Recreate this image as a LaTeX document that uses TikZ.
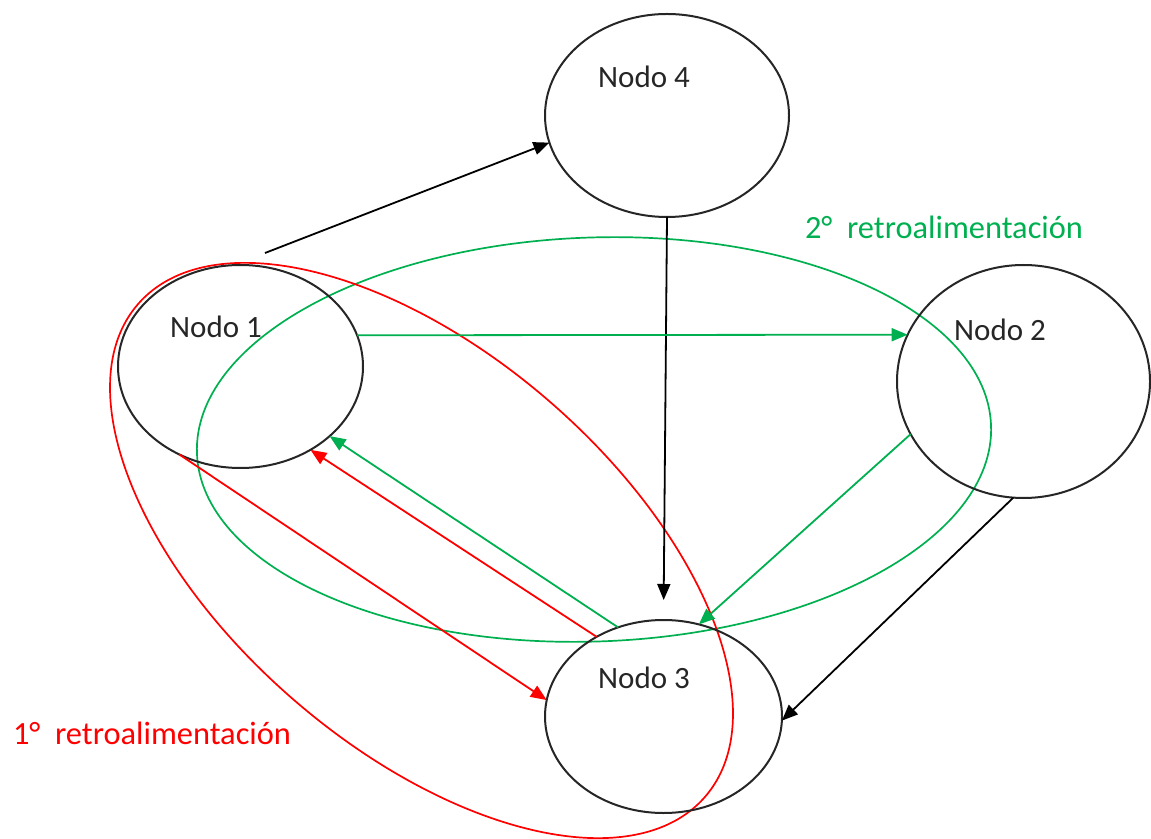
\documentclass[tikz,border=0pt]{standalone}
\usepackage{fontspec}
\setmainfont{Carlito}
\usepackage{tikz}
\usetikzlibrary{arrows.meta}
\usetikzlibrary{shapes.geometric}
\definecolor{retroverde}{RGB}{0,176,80}
\definecolor{retrorojo}{RGB}{255,0,0}
\tikzstyle{nodo}=[draw=black!85, line width=1pt, ellipse, inner sep=0, outer sep=0]
\tikzstyle{lazo}=[draw, line width=0.85pt, ellipse, inner sep=0, outer sep=0]
\tikzstyle{etiqueta}=[inner sep=0, text=black!85, font=\fontsize{15.5}{18}\selectfont]
\tikzstyle{retro}=[etiqueta, font=\fontsize{16.2}{19}\selectfont]
\tikzstyle{flecha}=[line width=0.9pt, -{Triangle[length=8pt, width=6.5pt]}]
\tikzstyle{grafo}=[x=0.5pt, y=-0.5pt,
                   % Los textos sin relleno extra.
                   every node/.style={inner sep=0}]

\begin{document}
\begin{tikzpicture}[grafo]
        \useasboundingbox (0,0) rectangle (1151,839);
        % Lazos de retroalimentacion.
        \node[lazo, draw=retroverde, minimum width=397.3pt, minimum height=202pt, rotate=2] (R2) at (594,439.5) {};
        \node[lazo, draw=retrorojo, minimum width=375.6pt, minimum height=196.5pt, rotate=-41] (R1) at (421.5,550.5) {};
        \node[nodo, minimum width=122pt, minimum height=101.5pt] (N4) at (667,115.5) {};
        \node[nodo, minimum width=122.5pt, minimum height=101.5pt] (N1) at (240.5,366.5) {};
        \node[nodo, minimum width=126.5pt, minimum height=116.5pt] (N2) at (1023.5,381.5) {};
        \node[nodo, minimum width=118.5pt, minimum height=96.5pt] (N3) at (663.5,716.5) {};
        \node[etiqueta] (T4) at (644,77) {Nodo 4};
        \node[etiqueta] (T1) at (216,327) {Nodo 1};
        \node[etiqueta] (T2) at (1000,330) {Nodo 2};
        \node[etiqueta] (T3) at (644,678) {Nodo 3};
        \node[retro, text=retroverde] (T5) at (944,227) {2°~~retroalimentación};
        \node[retro, text=retrorojo] (T6) at (152,733) {1°~~retroalimentación};
        \coordinate (S1) at (265,253);
        \draw[flecha] (S1) -- (N4.193);
        \draw[flecha, shorten >=10pt] (N4.south) -- (N3.north);
        \draw[flecha] (N2.265) -- (N3.-2);
        \draw[flecha, retroverde] (N1.15) -- (N2.158);
        \draw[flecha, retroverde] (N2.205) -- (N3.69);
        \draw[flecha, retroverde] (N3.117) -- (N1.-38);
        \draw[flecha, retrorojo] (N3.130) -- (N1.-50);
        \draw[flecha, retrorojo] (N1.235) -- (N3.172);
    \end{tikzpicture}
\end{document}
